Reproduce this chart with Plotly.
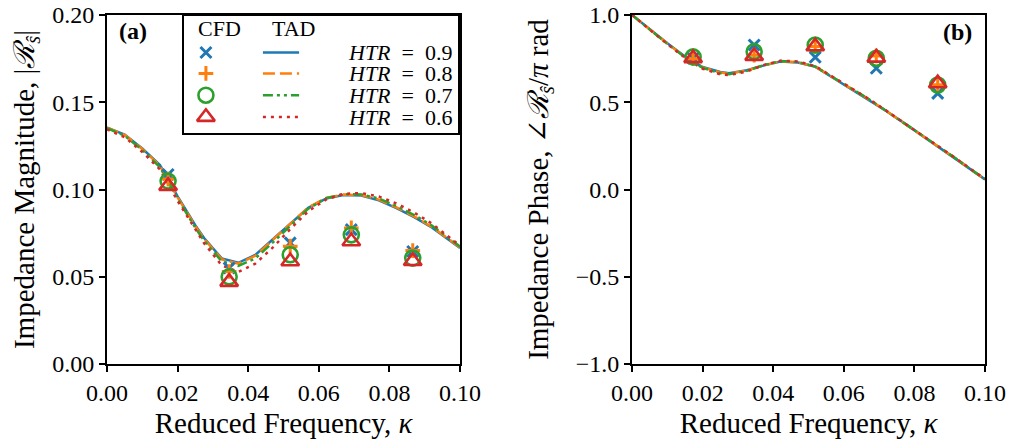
import plotly.graph_objects as go

# ---------------- data ----------------
k_tad = [0.000, 0.005, 0.010, 0.015, 0.020, 0.025, 0.0275, 0.0325, 0.0372, 0.042, 0.047,
         0.052, 0.057, 0.062, 0.067, 0.072, 0.077, 0.082, 0.087, 0.092, 0.097, 0.100]

mag_09 = [0.1355, 0.1315, 0.1235, 0.1140, 0.0960, 0.0795, 0.0722, 0.0605, 0.0580, 0.0625, 0.0715,
          0.0805, 0.0895, 0.0948, 0.0968, 0.0965, 0.0938, 0.0893, 0.0842, 0.0782, 0.0708, 0.0665]
mag_08 = [0.1355, 0.1313, 0.1232, 0.1136, 0.0955, 0.0790, 0.0717, 0.0600, 0.0575, 0.0620, 0.0712,
          0.0805, 0.0897, 0.0951, 0.0971, 0.0968, 0.0942, 0.0897, 0.0846, 0.0786, 0.0712, 0.0668]
mag_07 = [0.1352, 0.1308, 0.1226, 0.1128, 0.0947, 0.0781, 0.0707, 0.0588, 0.0562, 0.0605, 0.0697,
          0.0795, 0.0890, 0.0950, 0.0973, 0.0972, 0.0948, 0.0905, 0.0854, 0.0794, 0.0720, 0.0673]
mag_06 = [0.1345, 0.1300, 0.1215, 0.1115, 0.0935, 0.0768, 0.0692, 0.0565, 0.0528, 0.0575, 0.0668,
          0.0775, 0.0875, 0.0942, 0.0975, 0.0980, 0.0960, 0.0920, 0.0868, 0.0805, 0.0728, 0.0678]

ph_09 = [1.000, 0.918, 0.838, 0.762, 0.702, 0.673, 0.666, 0.683, 0.710, 0.733, 0.728,
         0.703, 0.640, 0.578, 0.518, 0.450, 0.382, 0.312, 0.243, 0.173, 0.100, 0.058]
ph_08 = [1.000, 0.917, 0.837, 0.760, 0.700, 0.670, 0.664, 0.682, 0.711, 0.734, 0.729,
         0.703, 0.641, 0.579, 0.518, 0.450, 0.382, 0.312, 0.243, 0.173, 0.100, 0.058]
ph_07 = [1.000, 0.916, 0.835, 0.758, 0.697, 0.666, 0.661, 0.680, 0.712, 0.736, 0.731,
         0.704, 0.642, 0.580, 0.519, 0.451, 0.383, 0.313, 0.244, 0.174, 0.101, 0.059]
ph_06 = [1.000, 0.915, 0.833, 0.755, 0.692, 0.660, 0.656, 0.676, 0.713, 0.738, 0.734,
         0.706, 0.644, 0.582, 0.520, 0.452, 0.384, 0.314, 0.245, 0.175, 0.102, 0.060]

k_cfd = [0.0173, 0.0346, 0.0519, 0.0692, 0.0866]
cfd_mag_09 = [0.1086, 0.0550, 0.0694, 0.0770, 0.0645]
cfd_mag_08 = [0.1060, 0.0530, 0.0675, 0.0780, 0.0650]
cfd_mag_07 = [0.1048, 0.0500, 0.0626, 0.0740, 0.0607]
cfd_mag_06 = [0.1020, 0.0470, 0.0588, 0.0703, 0.0590]

cfd_ph_09 = [0.752, 0.828, 0.758, 0.695, 0.551]
cfd_ph_08 = [0.750, 0.770, 0.820, 0.765, 0.600]
cfd_ph_07 = [0.760, 0.790, 0.828, 0.752, 0.599]
cfd_ph_06 = [0.752, 0.765, 0.820, 0.755, 0.608]

htr_labels = ["0.9", "0.8", "0.7", "0.6"]

# ---------------- styles ----------------
colors = ["#1f77b4", "#ff7f0e", "#2ca02c", "#d62728"]
dashes = ["solid", "12px,5px", "10px,4px,3px,4px,3px,4px", "3px,5px"]
symbols = ["x-thin", "cross-thin", "circle-open", "triangle-up-open"]
msizes = [11, 10.5, 15, 15.5]
mlw = [3, 3, 2.6, 2.6]
FONT = "Liberation Serif, DejaVu Serif, serif"

mags = [mag_09, mag_08, mag_07, mag_06]
phs = [ph_09, ph_08, ph_07, ph_06]
cmags = [cfd_mag_09, cfd_mag_08, cfd_mag_07, cfd_mag_06]
cphs = [cfd_ph_09, cfd_ph_08, cfd_ph_07, cfd_ph_06]

fig = go.Figure()

for ax, ys in (("", mags), ("2", phs)):
    for i in range(4):
        fig.add_trace(go.Scatter(x=k_tad, y=ys[i], mode="lines",
                                 line=dict(color=colors[i], width=2.5, dash=dashes[i]),
                                 xaxis="x" + ax, yaxis="y" + ax, showlegend=False))
for ax, ys in (("", cmags), ("2", cphs)):
    for i in range(4):
        fig.add_trace(go.Scatter(x=k_cfd, y=ys[i], mode="markers",
                                 marker=dict(symbol=symbols[i], size=msizes[i], color=colors[i],
                                             line=dict(color=colors[i], width=mlw[i])),
                                 xaxis="x" + ax, yaxis="y" + ax, showlegend=False))

# ---------------- custom legend (inset axes) ----------------
leg_rows = [3.43, 2.54, 1.61, 0.68]
for i in range(4):
    fig.add_trace(go.Scatter(x=[0.8], y=[leg_rows[i]], mode="markers",
                             marker=dict(symbol=symbols[i], size=msizes[i], color=colors[i],
                                         line=dict(color=colors[i], width=mlw[i])),
                             xaxis="x3", yaxis="y3", showlegend=False, hoverinfo="skip"))
    fig.add_trace(go.Scatter(x=[2.88, 4.2], y=[leg_rows[i], leg_rows[i]], mode="lines",
                             line=dict(color=colors[i], width=2.5, dash=dashes[i]),
                             xaxis="x3", yaxis="y3", showlegend=False, hoverinfo="skip"))

annotations = []
for i in range(4):
    annotations.append(dict(x=9.85, y=leg_rows[i], xref="x3", yref="y3", xanchor="right",
                            yanchor="middle", showarrow=False,
                            text="<i>HTR</i>\u2002=\u2002" + htr_labels[i],
                            font=dict(family=FONT, size=22, color="black")))
annotations.append(dict(x=1.28, y=4.45, xref="x3", yref="y3", xanchor="center", yanchor="middle",
                        showarrow=False, text="CFD",
                        font=dict(family=FONT, size=22, color="black")))
annotations.append(dict(x=3.98, y=4.45, xref="x3", yref="y3", xanchor="center", yanchor="middle",
                        showarrow=False, text="TAD",
                        font=dict(family=FONT, size=22, color="black")))
annotations.append(dict(x=0.0296, y=0.955, xref="paper", yref="paper", xanchor="center",
                        yanchor="middle", showarrow=False,
                        text="<b>(a)</b>", font=dict(family=FONT, size=24, color="black")))
annotations.append(dict(x=0.969, y=0.95, xref="paper", yref="paper", xanchor="center",
                        yanchor="middle", showarrow=False,
                        text="<b>(b)</b>", font=dict(family=FONT, size=24, color="black")))

axis_common = dict(showline=True, mirror=True, linecolor="black", linewidth=2,
                   ticks="outside", ticklen=6, tickwidth=1.5, tickcolor="black",
                   showgrid=False, zeroline=False, automargin=False,
                   ticklabeloverflow="allow",
                   tickfont=dict(family=FONT, size=24, color="black"))
inset_common = dict(showline=True, mirror=True, linecolor="black", linewidth=1.5,
                    showticklabels=False, ticks="", showgrid=False, zeroline=False,
                    fixedrange=True, automargin=False)

# page body has an 8px default margin, so margins are shifted to compensate
fig.update_layout(
    width=1014, height=446,
    margin=dict(l=99, r=37, t=7, b=90, autoexpand=False),
    paper_bgcolor="white", plot_bgcolor="white",
    font=dict(family=FONT, size=24, color="black"),
    xaxis=dict(domain=[0, 0.4021], range=[0, 0.1], dtick=0.02, tickformat=".2f",
               title=dict(text="Reduced Frequency, <i>κ</i>", standoff=8), **axis_common),
    yaxis=dict(domain=[0, 1], range=[0, 0.2], dtick=0.05, tickformat=".2f",
               title=dict(text="Impedance Magnitude, |<i>ℛ</i><sub><i>ŝ</i></sub>|", standoff=14),
               **axis_common),
    xaxis2=dict(domain=[0.598, 1], range=[0, 0.1], dtick=0.02, tickformat=".2f", anchor="y2",
                title=dict(text="Reduced Frequency, <i>κ</i>", standoff=8), **axis_common),
    yaxis2=dict(domain=[0, 1], range=[-1, 1], dtick=0.5, tickformat=".1f", anchor="x2",
                title=dict(text="Impedance Phase, ∠<i>ℛ</i><sub><i>ŝ</i></sub>/<i>π</i> rad", standoff=19),
                **axis_common),
    xaxis3=dict(domain=[0.0877, 0.3998], range=[0, 10], anchor="y3", **inset_common),
    yaxis3=dict(domain=[0.662, 0.998], range=[0, 5], anchor="x3", **inset_common),
    annotations=annotations,
)

fig.write_html("out.html")
